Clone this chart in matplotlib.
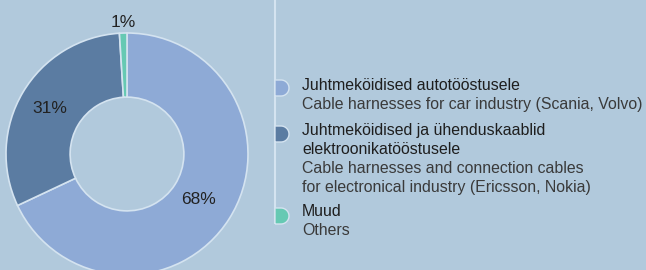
import numpy as np
import matplotlib
matplotlib.use("Agg")
import matplotlib.pyplot as plt
from matplotlib.patches import PathPatch
from matplotlib.path import Path

plt.rcParams['font.family'] = ['Liberation Sans', 'DejaVu Sans']

# data
shares = [68, 31, 1]
pct_labels = ['68%', '31%', '1%']
colors = ['#8eaad6', '#5b7ca2', '#66c9b3']
titles = ['Juhtmeköidised autotööstusele',
          'Juhtmeköidised ja ühenduskaablid\nelektroonikatööstusele',
          'Muud']
subtitles = ['Cable harnesses for car industry (Scania, Volvo)',
             'Cable harnesses and connection cables\nfor electronical industry (Ericsson, Nokia)',
             'Others']

bg = '#b1c9dc'
edge = '#d4e3f0'

W, H = 646, 270
fig = plt.figure(figsize=(W / 100, H / 100), dpi=100, facecolor=bg)
ax = fig.add_axes([0, 0, 1, 1])
ax.set_facecolor(bg)

cx, cy, R = 127, H - 154, 121
wedges, _ = ax.pie(shares, colors=colors, startangle=90, counterclock=False,
                   radius=R, center=(cx, cy),
                   wedgeprops=dict(width=R * 0.53, edgecolor=edge, linewidth=1.2))

# percent labels placed at the middle angle of each wedge
label_dist = [0.70, 0.74, 1.09]
for w, lab, d in zip(wedges, pct_labels, label_dist):
    ang = np.deg2rad((w.theta1 + w.theta2) / 2)
    ax.text(cx + d * R * np.cos(ang), cy + d * R * np.sin(ang), lab,
            ha='center', va='center', fontsize=12.5, color='#222222')

# legend: vertical rule with half-disc markers
lx = 275
ax.plot([lx, lx], [H - 224, H], color=edge, lw=1.5, solid_capstyle='butt')
marker_y = [88, 134, 216]
text_y0 = [86, 131, 212]
step = 18.7
for my, ty, col, t, s in zip(marker_y, text_y0, colors, titles, subtitles):
    yy = H - my
    r = 8
    th = np.linspace(-np.pi / 2, np.pi / 2, 30)
    verts = [(lx, yy - r)] + [(lx + 6 + r * np.cos(a), yy + r * np.sin(a)) for a in th] + [(lx, yy + r), (lx, yy - r)]
    ax.add_patch(PathPatch(Path(verts), facecolor=col, edgecolor=edge, lw=1.0, zorder=3))
    lines = t.split('\n') + s.split('\n')
    ntitle = len(t.split('\n'))
    for i, line in enumerate(lines):
        ax.text(302, H - (ty + i * step), line, ha='left', va='center', fontsize=11.4,
                color='#1e1e1e' if i < ntitle else '#3a3a3a')

ax.set_xlim(0, W)
ax.set_ylim(0, H)
ax.set_aspect('auto')
ax.axis('off')

fig.savefig('out.png', dpi=100, facecolor=bg)
